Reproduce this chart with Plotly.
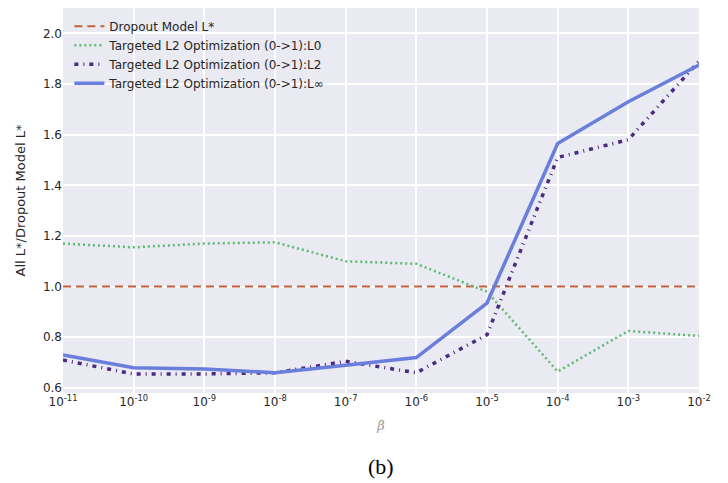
import plotly.graph_objects as go

betas = [1e-11, 1e-10, 1e-9, 1e-8, 1e-7, 1e-6, 1e-5, 1e-4, 1e-3, 1e-2]
dropout = [1.0] * 10
l0 = [1.17, 1.155, 1.17, 1.175, 1.10, 1.09, 0.98, 0.665, 0.825, 0.805]
l2 = [0.71, 0.655, 0.655, 0.66, 0.705, 0.66, 0.81, 1.51, 1.58, 1.89]
linf = [0.73, 0.68, 0.675, 0.66, 0.69, 0.72, 0.935, 1.565, 1.73, 1.875]
tick_vals = betas
tick_text = ["10<sup>%d</sup>" % e for e in range(-11, -1)]

fig = go.Figure()
fig.add_trace(go.Scatter(x=betas, y=dropout, mode="lines", name="Dropout Model L*",
                         line=dict(color="#c2603c", width=2, dash="8px,5px")))
fig.add_trace(go.Scatter(x=betas, y=l0, mode="lines", name="Targeted L2 Optimization (0->1):L0",
                         line=dict(color="#5dbb72", width=2.5, dash="2px,3px")))
fig.add_trace(go.Scatter(x=betas, y=l2, mode="lines", name="Targeted L2 Optimization (0->1):L2",
                         line=dict(color="#4b2a82", width=3.5, dash="4px,5px,1px,5px")))
fig.add_trace(go.Scatter(x=betas, y=linf, mode="lines", name="Targeted L2 Optimization (0->1):L∞",
                         line=dict(color="#6a7fdb", width=3.5)))

fig.update_layout(
    width=720, height=475,
    margin=dict(l=55, r=29, t=0, b=90),
    paper_bgcolor="white", plot_bgcolor="#eaeaf2",
    font=dict(family="DejaVu Sans", size=12, color="#262626"),
    legend=dict(x=0.01, y=0.99, xanchor="left", yanchor="top",
                bgcolor="rgba(0,0,0,0)", font=dict(size=12), tracegroupgap=0,
                itemwidth=30),
    showlegend=True,
)
fig.update_xaxes(type="log", range=[-11, -2], tickvals=tick_vals, ticktext=tick_text,
                 showgrid=True, gridcolor="white", gridwidth=1.5, zeroline=False,
                 ticks="", showline=False,
                 title=dict(text="<i>β</i>", font=dict(family="DejaVu Serif", size=13, color="#999999"),
                            standoff=12))
fig.update_yaxes(range=[0.58, 2.1], tickvals=[0.6, 0.8, 1.0, 1.2, 1.4, 1.6, 1.8, 2.0],
                 ticktext=["0.6", "0.8", "1.0", "1.2", "1.4", "1.6", "1.8", "2.0"],
                 showgrid=True, gridcolor="white", gridwidth=1.5, zeroline=False,
                 ticks="", showline=False,
                 title=dict(text="All L*/Dropout Model L*", font=dict(size=13), standoff=14))
fig.add_annotation(text="(b)", xref="paper", yref="paper", x=0.5, y=-0.19,
                   xanchor="center", yanchor="middle", showarrow=False,
                   font=dict(family="Liberation Serif", size=22, color="black"))

fig.write_html("out.html")
